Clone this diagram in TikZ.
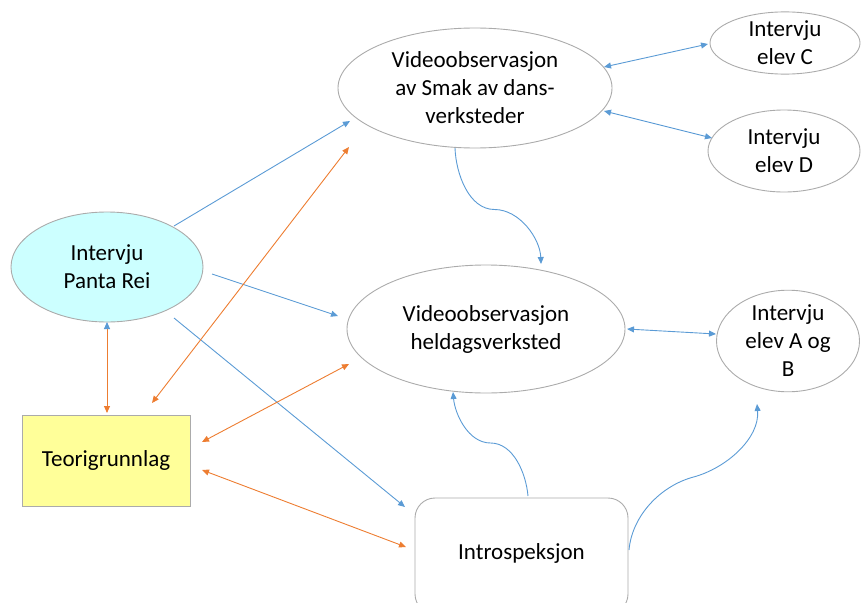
\documentclass[tikz,border=0pt]{standalone}
\usepackage{fontspec}
\setmainfont{Carlito}
\usetikzlibrary{arrows.meta,shapes.geometric,calc}
\definecolor{lblue}{HTML}{5B9BD5}
\definecolor{lorange}{HTML}{ED7D31}
\definecolor{bgray}{HTML}{ABABAB}
\definecolor{cyanfill}{HTML}{CCFFFF}
\definecolor{yelfill}{HTML}{FFFF99}
\tikzset{
  ell/.style={ellipse,draw=bgray,line width=0.9pt,inner sep=0pt,align=center,
    font=\fontsize{23}{28}\selectfont},
  boxn/.style={rectangle,draw=bgray,line width=0.9pt,inner sep=0pt,align=center,
    font=\fontsize{23}{28}\selectfont},
  barrow/.style={draw=lblue,line width=0.9pt,-{Triangle[length=7pt,width=6pt]}},
  bdarrow/.style={draw=lblue,line width=0.9pt,{Triangle[length=7pt,width=6pt]}-{Triangle[length=7pt,width=6pt]}},
  odarrow/.style={draw=lorange,line width=0.9pt,{Triangle[length=7pt,width=6pt]}-{Triangle[length=7pt,width=6pt]}},
}
\begin{document}
\begin{tikzpicture}[x=1pt,y=1pt]
\useasboundingbox (0,0) rectangle (861,-602);
\begin{scope}
\clip (0,0) rectangle (861,-602);
% nodes
\node[ell,minimum width=274pt,minimum height=120pt] (v1) at (475,-88)
  {Videoobservasjon\\av Smak av dans-\\verksteder};
\node[ell,minimum width=150pt,minimum height=62pt] (c) at (785,-43) {Intervju\\elev C};
\node[ell,minimum width=152pt,minimum height=82pt] (d) at (784,-151) {Intervju\\elev D};
\node[ell,fill=cyanfill,minimum width=192pt,minimum height=110pt] (pr) at (107,-267) {Intervju\\Panta Rei};
\node[ell,minimum width=278pt,minimum height=128pt] (v2) at (486,-329) {Videoobservasjon\\heldagsverksted};
\node[ell,minimum width=143pt,minimum height=87pt] (ab) at (788,-341) {Intervju\\elev A og\\B};
\node[boxn,fill=yelfill,minimum width=168pt,minimum height=91pt] (teo) at (106,-460.5) {Teorigrunnlag};
\node[boxn,rounded corners=20pt,minimum width=213pt,minimum height=116pt] (intro) at (521.5,-556) {};
\node[font=\fontsize{23}{28}\selectfont] (introtxt) at (521.5,-553) {Introspeksjon};
\coordinate (abin) at ($(ab.center)+(-31,-63)$);

% blue connectors
\draw[barrow] ([shift={(67,41)}]pr.center) -- ([shift={(-125,-33)}]v1.center);
\draw[barrow] ([shift={(105,-7)}]pr.center) -- ([shift={(-148,13)}]v2.center);
\draw[barrow] ([shift={(67,-51)}]pr.center) -- ([shift={(-116.5,49)}]intro.center);
\draw[bdarrow] ([shift={(129,21)}]v1.center) -- ([shift={(-77,-1)}]c.center);
\draw[bdarrow] ([shift={(129,-23)}]v1.center) -- ([shift={(-72,13)}]d.center);
\draw[bdarrow] ([shift={(141,0)}]v2.center) -- ([shift={(-72,7)}]ab.center);
\draw[barrow] ([shift={(-20,-60)}]v1.center) to[out=-88,in=180,looseness=0.9] ($(v1.center)!0.5!(v2.center)+(14,-1)$)
  to[out=0,in=92,looseness=0.9] ([shift={(55,65)}]v2.center);
\draw[barrow] ([shift={(6.5,60)}]intro.center) to[out=95,in=0,looseness=0.9] ($(intro.center)+(-31,113)$)
  to[out=180,in=-85,looseness=0.9] ([shift={(-33,-63)}]v2.center);
\draw[barrow] ([shift={(107.5,6)}]intro.center) to[out=85,in=195,looseness=0.9] ($(intro.center)+(172,79)$)
  to[out=15,in=-85,looseness=0.9] (abin);

% orange connectors
\draw[draw=lorange,line width=0.9pt,{Triangle[length=7pt,width=6pt,color=lblue]}-{Triangle[length=7pt,width=6pt]}]
  ([shift={(0,-55)}]pr.center) -- ([shift={(1,47.5)}]teo.center);
\draw[odarrow] ([shift={(46,57.5)}]teo.center) -- ([shift={(-126,-59)}]v1.center);
\draw[odarrow] ([shift={(96,18.5)}]teo.center) -- ([shift={(-137,-35)}]v2.center);
\draw[odarrow] ([shift={(96,-9.5)}]teo.center) -- ([shift={(-115.5,9)}]intro.center);
\end{scope}
\end{tikzpicture}
\end{document}
